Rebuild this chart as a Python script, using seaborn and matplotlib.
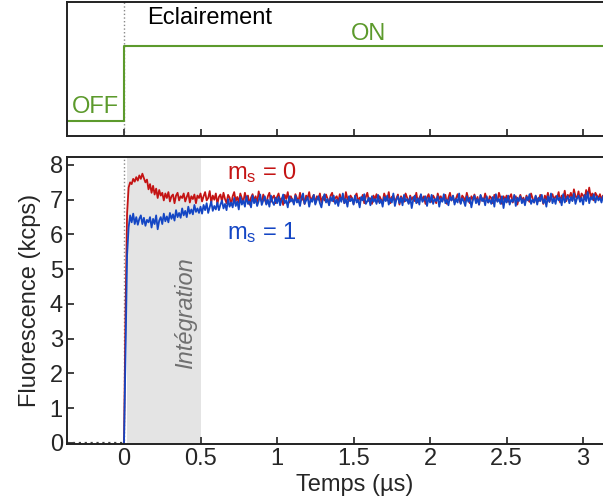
import numpy as np
import pandas as pd
import matplotlib.pyplot as plt
import seaborn as sns

# illumination state (top panel)
illum_t = [-0.373, 0.0, 3.13]
illum_level = [0.0, 1.0, 1.0]

# fluorescence traces, sampled every 10 ns from t = 0 to 3.13 us
red_ms0 = [
    0.0, 3.8, 6.6, 7.35, 7.5, 7.45, 7.6, 7.52, 7.65, 7.55,
    7.7, 7.6, 7.75, 7.62, 7.5, 7.58, 7.3, 7.45, 7.2, 7.4,
    7.15, 7.32, 7.05, 7.28, 7.12, 7.2, 6.98, 7.18, 7.05, 7.22,
    6.95, 7.1, 7.15, 6.9, 7.12, 7.2, 6.98, 7.1, 7.05, 7.18,
    6.95, 7.08, 7.2, 6.92, 7.1, 7.02, 7.15, 6.9, 7.12, 7.05,
    7.18,
    6.95, 7.1, 7.22, 6.98, 7.05, 7.25, 6.92, 7.12, 7.0, 7.18,
    6.88, 7.08, 7.15, 6.95, 7.2, 7.02, 6.9, 7.14, 7.06, 6.85,
    7.1, 7.22, 6.96, 7.08, 6.92, 7.18, 7.04, 6.94, 7.2, 7.0,
    7.12, 6.86, 7.06, 7.16, 6.98, 7.1, 6.9, 7.24, 7.02, 6.95,
    7.15, 7.0, 6.88, 7.1, 7.2, 6.94, 7.06, 7.12, 6.9, 7.08,
    7.18, 6.96, 7.04, 6.85, 7.14, 7.02, 7.22, 6.92, 7.1, 7.0,
    6.9, 7.16, 7.05, 6.94, 7.2, 6.98, 7.08, 6.88, 7.12, 7.04,
    7.22, 6.95, 7.06, 7.14, 6.9, 7.1, 7.0, 7.18, 6.92, 7.08,
    6.98, 7.15, 7.03, 6.86, 7.12, 7.2, 6.95, 7.05, 7.1, 6.92,
    7.16, 7.0, 7.08, 6.9, 7.22, 7.02, 6.96, 7.12, 7.05, 6.88,
    7.1, 7.18, 6.94, 7.06, 7.0, 7.14, 6.9, 7.08, 7.2, 6.96,
    7.04, 6.88, 7.12, 7.02, 7.16, 6.94, 7.1, 7.0, 6.92, 7.18,
    7.06, 6.98, 7.22, 6.9, 7.08, 7.12, 6.95, 7.04, 7.15, 6.86,
    7.1, 7.02, 6.94, 7.18, 7.06, 6.9, 7.12, 7.0, 7.08, 6.96,
    7.2, 6.92, 7.05, 7.14, 6.98, 7.1, 6.88, 7.06, 7.16, 7.0,
    6.94, 7.12, 7.04, 6.9, 7.18, 7.02, 7.1, 6.96, 7.08, 7.14,
    6.88, 7.06, 7.2, 6.98, 7.1, 6.92, 7.04, 7.16, 7.0, 6.9,
    7.12, 7.06, 6.95, 7.2, 7.02, 6.9, 7.1, 7.0, 7.15, 6.94,
    7.08, 6.86, 7.12, 7.04, 6.96, 7.18, 7.0, 6.92, 7.1, 7.05,
    6.9, 7.14, 7.02, 6.96, 7.2, 7.06, 6.88, 7.1, 7.0, 7.12,
    6.94, 7.08, 7.16, 6.92, 7.04, 7.1, 6.86, 7.02, 7.14, 6.98,
    7.06, 6.9, 7.12, 7.0, 6.94, 7.18, 7.04, 6.92, 7.1, 7.02,
    6.96, 7.14, 7.06, 6.88, 7.12, 7.0, 7.2, 6.94, 7.08, 7.16,
    6.98, 7.1, 7.04, 7.22, 6.92, 7.12, 7.02, 7.26, 6.96, 7.14,
    7.08, 7.2, 6.98, 7.3, 7.1, 7.04, 7.24, 6.96, 7.18, 7.12,
    7.02, 7.28, 7.1, 7.35, 7.06, 7.18, 6.98, 7.2, 7.12, 7.04,
    7.16, 7.0, 7.12,
]
blue_ms1 = [
    0.0, 2.6, 5.4, 6.2, 6.55, 6.35, 6.6, 6.3, 6.5, 6.28,
    6.45, 6.55, 6.3, 6.48, 6.25, 6.42, 6.35, 6.5, 6.2, 6.45,
    6.3, 6.55, 6.15, 6.4, 6.5, 6.3, 6.6, 6.38, 6.52, 6.35,
    6.62, 6.45, 6.58, 6.4, 6.7, 6.5, 6.62, 6.48, 6.75, 6.55,
    6.68, 6.5, 6.8, 6.6, 6.72, 6.58, 6.85, 6.65, 6.75, 6.62,
    6.8,
    6.6, 6.85, 6.7, 6.9, 6.62, 6.78, 6.95, 6.68, 6.82, 6.72,
    6.92, 6.7, 6.86, 6.98, 6.75, 6.88, 6.7, 7.02, 6.8, 6.92,
    6.78, 7.05, 6.82, 6.95, 6.72, 7.08, 6.86, 6.98, 6.8, 7.1,
    6.88, 6.95, 6.78, 7.12, 6.9, 7.02, 6.82, 6.96, 7.15, 6.85,
    6.98, 7.1, 6.86, 7.0, 6.8, 7.12, 6.94, 6.85, 7.06, 6.9,
    7.08, 6.84, 7.0, 7.15, 6.9, 6.98, 6.78, 7.1, 6.95, 7.02,
    6.86, 7.12, 6.92, 7.0, 6.82, 7.06, 7.18, 6.88, 6.98, 7.08,
    6.8, 7.02, 6.94, 7.14, 6.86, 7.0, 7.1, 6.9, 6.78, 7.05,
    7.16, 6.92, 7.02, 6.84, 7.08, 6.96, 7.12, 6.88, 7.0, 6.82,
    7.06, 6.94, 7.18, 6.9, 7.02, 6.8, 7.1, 6.96, 7.04, 6.86,
    7.12, 6.92, 7.0, 6.78, 7.08, 6.98, 7.16, 6.88, 6.96, 7.06,
    6.84, 7.1, 6.94, 7.02, 6.88, 7.14, 6.9, 7.0, 6.8, 7.08,
    6.96, 7.12, 6.86, 7.04, 6.92, 7.18, 6.82, 7.0, 7.1, 6.9,
    7.06, 6.84, 7.14, 6.96, 7.02, 6.88, 7.08, 6.76, 7.0, 7.12,
    6.9, 7.04, 6.86, 7.16, 6.94, 7.0, 7.1, 6.82, 7.06, 6.92,
    7.14, 6.88, 7.02, 6.96, 7.1, 6.8, 7.04, 6.94, 7.16, 6.9,
    7.0, 6.84, 7.08, 6.98, 7.12, 6.86, 7.02, 6.92, 7.18, 6.88,
    7.04, 6.96, 6.82, 7.1, 6.94, 7.06, 6.78, 7.0, 7.12, 6.9,
    7.02, 6.86, 7.14, 6.96, 7.04, 6.84, 7.1, 6.92, 7.0, 6.88,
    7.08, 6.8, 7.16, 6.94, 7.02, 6.88, 7.1, 6.76, 7.04, 6.92,
    7.12, 6.86, 7.0, 6.94, 7.14, 6.82, 7.06, 6.96, 7.1, 6.9,
    7.02, 6.84, 7.08, 6.98, 7.16, 6.88, 7.0, 6.92, 7.12, 6.86,
    7.06, 6.96, 7.14, 6.9, 7.02, 6.8, 7.1, 6.94, 7.18, 6.9,
    7.04, 6.88, 7.12, 6.98, 7.06, 6.84, 7.16, 6.92, 7.02, 7.1,
    6.9, 7.08, 6.96, 7.18, 6.88, 7.04, 7.12, 6.94, 7.06, 6.86,
    7.14, 6.96, 7.22, 6.9, 7.08, 7.0, 7.16, 6.92, 7.1, 6.98,
    7.06, 6.92, 7.1,
]
time_us = np.round(np.arange(len(red_ms0)) * 0.01, 2)

# dark count baseline before the laser is switched on
base_t = [-0.373, 0.0]
base_val = [0.0, 0.0]

xticks = [0, 0.5, 1, 1.5, 2, 2.5, 3]
xticklabels = ['0', '0.5', '1', '1.5', '2', '2.5', '3']
yticks = [0, 1, 2, 3, 4, 5, 6, 7, 8]

df = pd.DataFrame({'t': time_us, 'ms0': red_ms0, 'ms1': blue_ms1})

red = '#c41414'
blue = '#1446c4'
green = '#5c9a2c'
fs = 17

sns.set_style('ticks')
plt.rcParams['font.family'] = ['Liberation Sans', 'DejaVu Sans']
plt.rcParams['mathtext.fontset'] = 'custom'
plt.rcParams['mathtext.rm'] = 'Liberation Sans'
plt.rcParams['mathtext.it'] = 'Liberation Sans:italic'

fig = plt.figure(figsize=(6.03, 5.04), dpi=100)
ax_top = fig.add_axes([0.111, 0.730, 0.889, 0.267])
ax = fig.add_axes([0.111, 0.119, 0.889, 0.5695])

# top panel: illumination
ax_top.step(illum_t, illum_level, where='post', color=green, lw=1.5)
ax_top.axvline(0, color='#888888', ls=':', lw=1.0, zorder=0)
ax_top.set_xlim(-0.373, 3.13)
ax_top.set_ylim(-0.2, 1.593)
ax_top.set_xticks(xticks)
ax_top.set_xticklabels([])
ax_top.set_yticks([])
ax_top.tick_params(axis='x', direction='in', length=5, width=1.3, color='#333333')
ax_top.spines['right'].set_visible(False)
for s in ['left', 'bottom', 'top']:
    ax_top.spines[s].set_linewidth(1.4)
    ax_top.spines[s].set_color('#222222')
ax_top.text(0.56, 1.37, 'Eclairement', fontsize=fs, ha='center', va='center', color='black')
ax_top.text(1.595, 1.16, 'ON', fontsize=fs, ha='center', va='center', color=green)
ax_top.text(-0.19, 0.187, 'OFF', fontsize=fs, ha='center', va='center', color=green)

# bottom panel: fluorescence
ax.axvspan(0.017, 0.5, color='#e4e4e4', lw=0, zorder=0)
ax.axvline(0, color='#888888', ls=':', lw=1.0, zorder=0.5)
ax.plot(base_t, base_val, color='#444444', ls=':', lw=1.6)
sns.lineplot(data=df, x='t', y='ms0', ax=ax, color=red, lw=1.3)
sns.lineplot(data=df, x='t', y='ms1', ax=ax, color=blue, lw=1.3)
ax.set_xlim(-0.373, 3.13)
ax.set_ylim(-0.03, 8.23)
ax.set_xticks(xticks)
ax.set_xticklabels(xticklabels)
ax.set_yticks(yticks)
ax.tick_params(direction='in', length=5, width=1.3, labelsize=fs, color='#333333', pad=3)
ax.spines['right'].set_visible(False)
for s in ['left', 'bottom', 'top']:
    ax.spines[s].set_linewidth(1.4)
    ax.spines[s].set_color('#222222')
ax.set_xlabel('Temps (µs)', fontsize=fs)
ax.xaxis.set_label_coords(0.537, -0.105)
ax.set_ylabel('Fluorescence (kcps)', fontsize=fs, labelpad=6)
ax.text(0.9, 7.78, r'm$_\mathrm{s}$ = 0', fontsize=fs, color=red, ha='center', va='center')
ax.text(0.9, 6.07, r'm$_\mathrm{s}$ = 1', fontsize=fs, color=blue, ha='center', va='center')
ax.text(0.40, 3.75, 'Intégration', fontsize=fs, color='#707070', style='italic',
        rotation=90, ha='center', va='center')

fig.savefig('out.png', dpi=100)
